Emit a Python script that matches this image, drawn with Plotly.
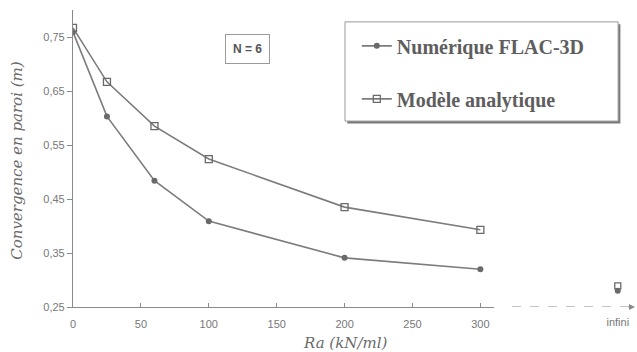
import plotly.graph_objects as go

# Raideur du soutènement Ra (kN/ml) et convergence en paroi (m)
ra = [0, 25, 60, 100, 200, 300]
flac = [0.759, 0.603, 0.484, 0.409, 0.341, 0.320]
analytique = [0.767, 0.667, 0.585, 0.524, 0.435, 0.393]

infini_label = ["infini"]
flac_inf = [0.280]
analytique_inf = [0.289]

x_ticks = [0, 50, 100, 150, 200, 250, 300]
y_ticks = [0.25, 0.35, 0.45, 0.55, 0.65, 0.75]

line_col = "#7c7c7c"
mark_col = "#6a6a6a"
axis_col = "#8a8a8a"
tick_font = dict(family="Liberation Sans, Arial", size=11, color="#777777")

fig = go.Figure()

fig.add_trace(go.Scatter(
    x=ra, y=flac, mode="lines+markers", name="Numérique FLAC-3D",
    legendgroup="a",
    line=dict(color=line_col, width=1.6),
    marker=dict(symbol="circle", size=6, color=mark_col),
))
fig.add_trace(go.Scatter(
    x=ra, y=analytique, mode="lines+markers", name="Modèle analytique",
    legendgroup="b",
    line=dict(color=line_col, width=1.6),
    marker=dict(symbol="square-open", size=7, color=mark_col, line=dict(width=1.3)),
))
fig.add_trace(go.Scatter(
    x=infini_label, y=flac_inf, mode="markers", xaxis="x2", showlegend=False,
    marker=dict(symbol="circle", size=6, color=mark_col),
))
fig.add_trace(go.Scatter(
    x=infini_label, y=analytique_inf, mode="markers", xaxis="x2", showlegend=False,
    marker=dict(symbol="square-open", size=6, color=mark_col, line=dict(width=1.3)),
))

# legend frame with a drop shadow
bx0, bx1, by0, by1 = 0.484, 0.970, 0.626, 0.960
fig.add_shape(type="rect", xref="paper", yref="paper",
              x0=bx0 + 0.004, x1=bx1 + 0.004, y0=by0 - 0.008, y1=by1 - 0.008,
              fillcolor="#7a7a7a", line=dict(width=0), layer="below")
fig.add_shape(type="rect", xref="paper", yref="paper",
              x0=bx0, x1=bx1, y0=by0, y1=by1,
              fillcolor="white", line=dict(color="#9a9a9a", width=1), layer="below")

# dashed arrow towards infinity
fig.add_shape(type="line", xref="x2 domain", yref="y",
              x0=0, x1=1, y0=0.25, y1=0.25,
              line=dict(color=axis_col, width=1.2, dash="dash"))
fig.add_annotation(xref="x2 domain", yref="y", x=1, y=0.25, ax=-8, ay=0,
                   text="", showarrow=True, arrowhead=2, arrowsize=1,
                   arrowwidth=1.2, arrowcolor=axis_col)

fig.add_annotation(xref="paper", yref="paper", x=0.311, y=0.870,
                   xanchor="center", yanchor="middle",
                   text="N = 6", showarrow=False,
                   font=dict(family="Liberation Sans, Arial", size=12,
                             color="#555555", weight="bold"),
                   bordercolor="#9a9a9a", borderwidth=1, borderpad=7,
                   bgcolor="white")

fig.add_annotation(xref="paper", yref="paper", x=-0.100, y=0.495,
                   xanchor="center", yanchor="middle",
                   text="Convergence en paroi (m)", textangle=-90,
                   showarrow=False,
                   font=dict(family="DejaVu Serif", size=15,
                             color="#6a6a6a", style="italic"))
fig.add_annotation(xref="paper", yref="paper", x=0.484, y=-0.120,
                   xanchor="center", yanchor="middle",
                   text="Ra (kN/ml)", showarrow=False,
                   font=dict(family="DejaVu Serif", size=15,
                             color="#6a6a6a", style="italic"))

fig.update_layout(
    width=637, height=352,
    margin=dict(l=73, r=2, t=10, b=45),
    paper_bgcolor="white", plot_bgcolor="white",
    separators=", ",
    showlegend=True,
    legend=dict(x=0.505, y=0.945, xanchor="left", yanchor="top",
                bgcolor="rgba(0,0,0,0)", borderwidth=0,
                traceorder="grouped", tracegroupgap=24, itemwidth=30,
                font=dict(family="Liberation Serif", size=20,
                          color="#5e5e5e", weight="bold")),
    xaxis=dict(domain=[0, 0.749], range=[0, 310], tickvals=x_ticks,
               showline=True, linecolor=axis_col, linewidth=1.2,
               ticks="inside", ticklen=4, tickcolor=axis_col,
               ticklabelstandoff=7,
               showgrid=False, zeroline=False, tickfont=tick_font),
    xaxis2=dict(domain=[0.781, 1], type="category", range=[-0.86, 0.14],
                anchor="y", showline=False, ticks="", showgrid=False,
                zeroline=False, tickfont=tick_font, ticklabelstandoff=7),
    yaxis=dict(range=[0.25, 0.80], tickvals=y_ticks, tickformat=".2f",
               showline=True, linecolor=axis_col, linewidth=1.2,
               ticks="outside", ticklen=5, tickcolor=axis_col,
               showgrid=False, zeroline=False, tickfont=tick_font),
)

fig.write_html("out.html")
